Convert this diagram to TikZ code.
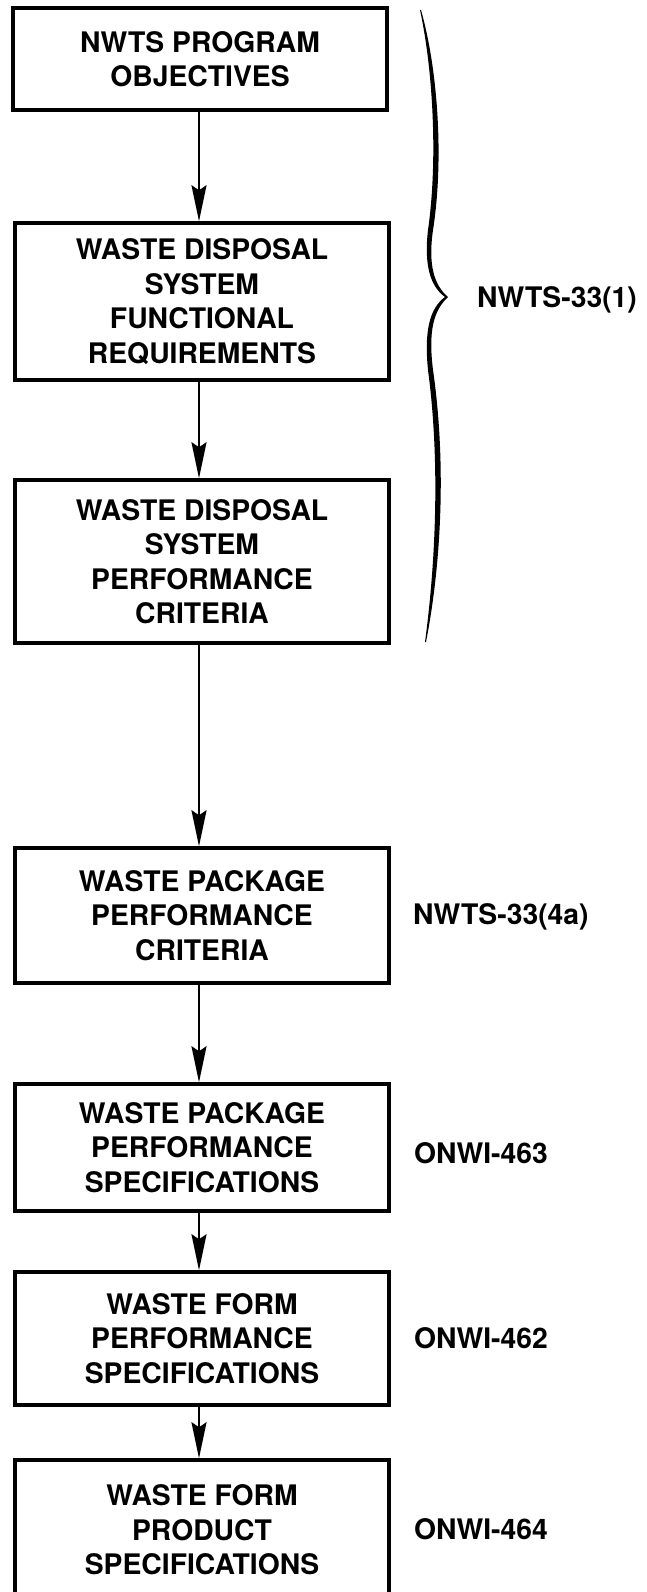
\documentclass[tikz,border=0pt]{standalone}
\usepackage{fontspec}
\setmainfont{TeX Gyre Heros}
\usetikzlibrary{arrows.meta}
\tikzset{
  flowbox/.style={draw, line width=3.5pt, inner sep=0pt, align=center,
    minimum width=374pt, font=\bfseries\fontsize{28.3}{34.5}\selectfont},
  conn/.style={line width=2.2pt, -{Stealth[length=36pt,width=15pt,inset=5pt]}},
  lbl/.style={anchor=west, inner sep=0pt, text depth=0pt, text height=20pt,
    font=\bfseries\fontsize{28.3}{34.5}\selectfont},
  bracestyle/.style={line width=3.5pt, line cap=round, line join=round}
}
\begin{document}
\begin{tikzpicture}[x=1pt,y=-1pt]
\useasboundingbox (0,0) rectangle (646,1592);
\node[flowbox, minimum height=102pt] (b1) at (200,59) {NWTS PROGRAM\\OBJECTIVES};
\node[flowbox, minimum height=157pt] (b2) at (202,301.5) {WASTE DISPOSAL\\SYSTEM\\FUNCTIONAL\\REQUIREMENTS};
\node[flowbox, minimum height=163pt] (b3) at (202,561.5) {WASTE DISPOSAL\\SYSTEM\\PERFORMANCE\\CRITERIA};
\node[flowbox, minimum height=135pt] (b4) at (202,915.5) {WASTE PACKAGE\\PERFORMANCE\\CRITERIA};
\node[flowbox, minimum height=127pt] (b5) at (202,1147.5) {WASTE PACKAGE\\PERFORMANCE\\SPECIFICATIONS};
\node[flowbox, minimum height=133pt] (b6) at (202,1338.5) {WASTE FORM\\PERFORMANCE\\SPECIFICATIONS};
\node[flowbox, minimum height=140pt] (b7) at (202,1530) {WASTE FORM\\PRODUCT\\SPECIFICATIONS};

\draw[conn] (b1.south -| 199,0) -- (b2.north -| 199,0);
\draw[conn] (b2.south -| 199,0) -- (b3.north -| 199,0);
\draw[conn] (b3.south -| 199,0) -- (b4.north -| 199,0);
\draw[conn] (b4.south -| 199,0) -- (b5.north -| 199,0);
\draw[conn] (b5.south -| 199,0) -- (b6.north -| 199,0);
\draw[conn] (b6.south -| 199,0) -- (b7.north -| 199,0);

% brace (filled, tapered)
\coordinate (bt) at (421,10);
\coordinate (tip) at (448,297);
\coordinate (bb) at (426,642);
\fill (bt) .. controls (438,70) and (444,160) .. (433,230)
  .. controls (428,265) and (434,285) .. (tip)
  .. controls (434,310) and (428,330) .. (433,370)
  .. controls (446,460) and (442,560) .. (bb)
  -- (425,642)
  .. controls (436,560) and (440,460) .. (428,370)
  .. controls (424,330) and (430,308) .. (445,297)
  .. controls (430,286) and (424,265) .. (428,230)
  .. controls (438,160) and (433,70) .. (420,10) -- cycle;

\node[lbl] (l1) at (477,297) {NWTS-33(1)};
\node[lbl] (l2) at (413,914) {NWTS-33(4a)};
\node[lbl] (l3) at (414,1153) {ONWI-463};
\node[lbl] (l4) at (414,1338) {ONWI-462};
\node[lbl] (l5) at (414,1529) {ONWI-464};
\end{tikzpicture}
\end{document}
